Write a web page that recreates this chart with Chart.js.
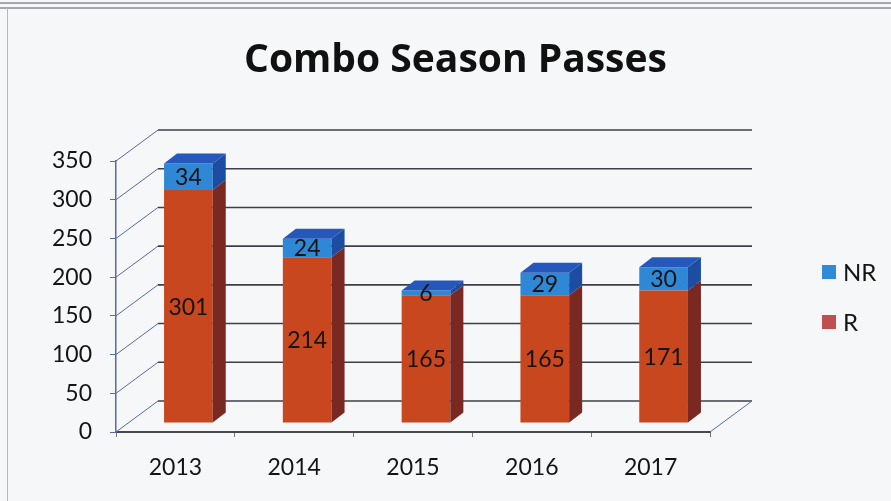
<!DOCTYPE html>
<html>
<head>
<meta charset="utf-8">
<title>Combo Season Passes</title>
<script src="https://cdn.jsdelivr.net/npm/chart.js@4.4.0/dist/chart.umd.min.js"></script>
<style>
  html, body { margin: 0; padding: 0; background: #f5f7f9; }
  #wrap { width: 891px; height: 501px; }
</style>
</head>
<body>
<div id="wrap"><canvas id="passes"></canvas></div>
<script>
const years = ['2013', '2014', '2015', '2016', '2017'];
const r_values = [301, 214, 165, 165, 171];
const nr_values = [34, 24, 6, 29, 30];
const y_ticks = [0, 50, 100, 150, 200, 250, 300, 350];

// fake 3d: how far the back wall sits behind the axes, and where the bars sit
const wall_dx = 42, wall_dy = -31;
const bar_shift_x = 13, bar_shift_y = -9;
const bar_dx = 13, bar_dy = -10;

const faces = {
    R: { front: '#c9471f', side: '#7a2822', top: '#a33a22', legend: '#c0504d' },
    NR: { front: '#2f88d6', side: '#1d4ca3', top: '#2658bb', legend: '#2f8ad8' }
};

function poly(ctx, pts, fill) {
    ctx.beginPath();
    ctx.moveTo(pts[0][0], pts[0][1]);
    for (let i = 1; i < pts.length; i++) ctx.lineTo(pts[i][0], pts[i][1]);
    ctx.closePath();
    ctx.fillStyle = fill;
    ctx.fill();
}

const box3d = {
    id: 'box3d',
    beforeDraw(chart) {
        const ctx = chart.ctx;
        ctx.save();
        ctx.fillStyle = '#f5f7f9';
        ctx.fillRect(0, 0, chart.width, chart.height);
        // page frame
        ctx.strokeStyle = '#8a8d92';
        ctx.lineWidth = 1.5;
        ctx.beginPath();
        ctx.moveTo(0, 3); ctx.lineTo(chart.width, 3);
        ctx.moveTo(0, 8); ctx.lineTo(chart.width, 8);
        ctx.stroke();
        ctx.strokeStyle = '#b5b8bd';
        ctx.lineWidth = 1;
        ctx.beginPath();
        ctx.moveTo(7.5, 8); ctx.lineTo(7.5, chart.height);
        ctx.stroke();
        ctx.restore();
    },
    beforeDatasetsDraw(chart) {
        const ctx = chart.ctx;
        const area = chart.chartArea;
        const y = chart.scales.y;
        ctx.save();
        ctx.lineWidth = 1;
        y.ticks.forEach(t => {
            const py = y.getPixelForValue(t.value);
            // side wall
            ctx.strokeStyle = '#5b68a6';
            ctx.beginPath();
            ctx.moveTo(area.left, py);
            ctx.lineTo(area.left + wall_dx, py + wall_dy);
            ctx.stroke();
            // back wall
            ctx.strokeStyle = '#3c3f44';
            ctx.lineWidth = 1.6;
            ctx.beginPath();
            ctx.moveTo(area.left + wall_dx, py + wall_dy);
            ctx.lineTo(area.right + wall_dx, py + wall_dy);
            ctx.stroke();
            ctx.lineWidth = 1;
        });
        // right edge of the floor
        ctx.strokeStyle = '#5b68a6';
        ctx.beginPath();
        ctx.moveTo(area.right, area.bottom);
        ctx.lineTo(area.right + wall_dx, area.bottom + wall_dy);
        ctx.stroke();
        ctx.restore();

        ctx.save();
        ctx.translate(bar_shift_x, bar_shift_y);
    },
    afterDatasetsDraw(chart) {
        const ctx = chart.ctx;
        const sets = chart.data.datasets;
        sets.forEach((ds, i) => {
            const f = faces[ds.label];
            chart.getDatasetMeta(i).data.forEach((bar) => {
                const p = bar.getProps(['x', 'y', 'base', 'width'], true);
                const l = p.x - p.width / 2, r = p.x + p.width / 2;
                poly(ctx, [[r, p.y], [r + bar_dx, p.y + bar_dy], [r + bar_dx, p.base + bar_dy], [r, p.base]], f.side);
                if (i === sets.length - 1) {
                    poly(ctx, [[l, p.y], [l + bar_dx, p.y + bar_dy], [r + bar_dx, p.y + bar_dy], [r, p.y]], f.top);
                }
            });
        });
        // value labels in the middle of each front face
        ctx.font = '23px Lato';
        ctx.fillStyle = '#141414';
        ctx.textAlign = 'center';
        ctx.textBaseline = 'middle';
        sets.forEach((ds, i) => {
            chart.getDatasetMeta(i).data.forEach((bar, j) => {
                const p = bar.getProps(['x', 'y', 'base'], true);
                ctx.fillText(String(ds.data[j]), p.x, (p.y + p.base) / 2 + 1);
            });
        });
        ctx.restore();
    },
    afterDraw(chart) {
        const ctx = chart.ctx;
        const sets = chart.data.datasets.slice().reverse();
        ctx.save();
        ctx.font = '24px Lato';
        ctx.textBaseline = 'middle';
        ctx.textAlign = 'left';
        sets.forEach((ds, k) => {
            const cy = 272 + k * 50;
            ctx.fillStyle = faces[ds.label].legend;
            ctx.fillRect(822, cy - 7, 14, 14);
            ctx.fillStyle = '#141414';
            ctx.fillText(ds.label, 843, cy + 1);
        });
        ctx.restore();
    }
};

new Chart(document.getElementById('passes'), {
    type: 'bar',
    data: {
        labels: years,
        datasets: [{
            label: 'R',
            data: r_values,
            backgroundColor: faces.R.front,
            borderWidth: 0
        }, {
            label: 'NR',
            data: nr_values,
            backgroundColor: faces.NR.front,
            borderWidth: 0
        }]
    },
    options: {
        responsive: true,
        maintainAspectRatio: false,
        animation: false,
        barPercentage: 0.41,
        categoryPercentage: 1,
        layout: { padding: { left: 20, right: 0, top: 0, bottom: 0 } },
        plugins: {
            legend: { display: false },
            tooltip: { enabled: false },
            title: {
                display: true,
                text: 'Combo Season Passes',
                color: '#111',
                font: { family: 'Open Sans', size: 39, weight: 'bold' },
                padding: { top: 37, bottom: 77.2 }
            }
        },
        scales: {
            x: {
                stacked: true,
                grid: { drawOnChartArea: false, tickLength: 5, color: '#777' },
                border: { color: '#45484d', width: 2 },
                ticks: { color: '#141414', font: { family: 'Lato', size: 23 }, padding: 17 },
                afterFit(s) { s.height = 69; }
            },
            y: {
                stacked: true,
                min: y_ticks[0],
                max: y_ticks[y_ticks.length - 1],
                afterBuildTicks(s) { s.ticks = y_ticks.map(v => ({ value: v })); },
                grid: { drawOnChartArea: false, tickLength: 6, color: '#5b68a6' },
                border: { color: '#5b68a6', width: 1.5 },
                ticks: { color: '#141414', font: { family: 'Lato', size: 23 }, padding: 18 },
                afterFit(s) { s.width = 96; }
            },
            // empty axis that keeps room for the legend on the right
            pad: {
                type: 'linear',
                position: 'right',
                grid: { display: false },
                border: { display: false },
                ticks: { display: false },
                afterFit(s) { s.width = 181; }
            }
        }
    },
    plugins: [box3d]
});
</script>
</body>
</html>
